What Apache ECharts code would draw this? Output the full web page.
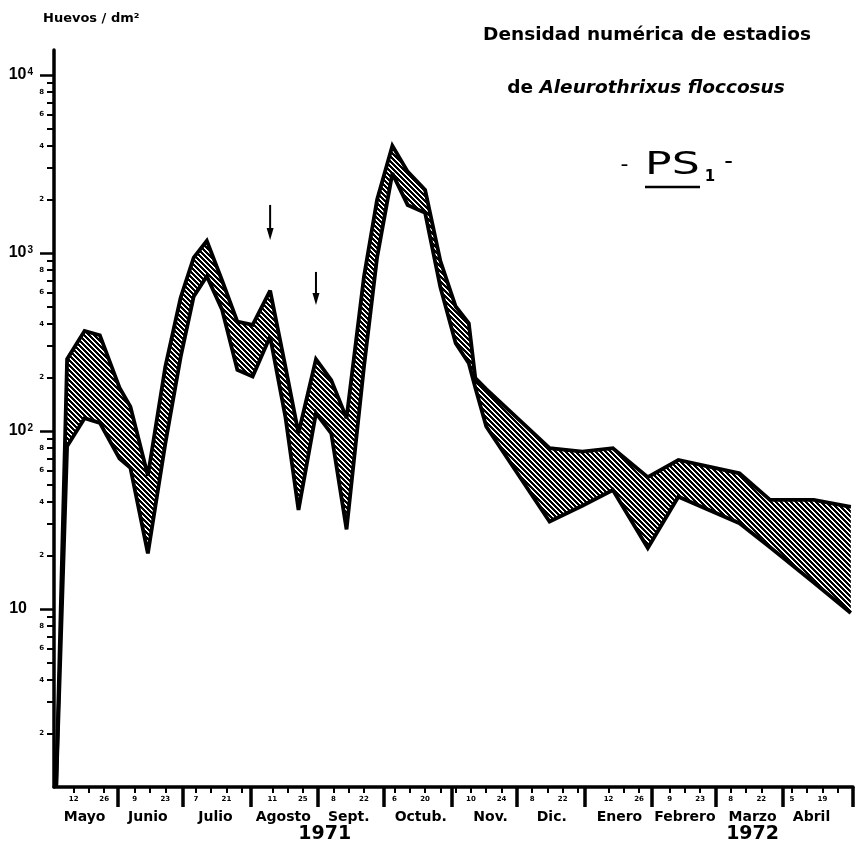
<!DOCTYPE html>
<html><head><meta charset="utf-8">
<script src="https://cdn.jsdelivr.net/npm/echarts@6/dist/echarts.min.js"></script>
<style>html,body{margin:0;padding:0;background:#fff}#c{width:855px;height:858px}</style>
</head><body><div id="c"></div>
<script>
// ---------- data ----------
const sampleDates = ['1971-05-04','1971-05-09','1971-05-17','1971-05-24','1971-06-02','1971-06-07','1971-06-15','1971-06-23','1971-06-30','1971-07-06','1971-07-12','1971-07-19','1971-07-26','1971-08-02','1971-08-10','1971-08-17','1971-08-23','1971-08-31','1971-09-07','1971-09-14','1971-09-22','1971-09-28','1971-10-05','1971-10-12','1971-10-20','1971-10-27','1971-11-03','1971-11-09','1971-11-12','1971-11-17','1971-12-16','1971-12-31','1972-01-14','1972-01-30','1972-02-13','1972-03-12','1972-03-26','1972-04-15','1972-05-02'];
const upperEggs = [1,253,365,345,175,137,56,230,560,940,1170,700,411,394,614,230,97,253,193,118,736,1990,4000,2860,2260,900,500,403,198,172,80,76.5,80,55,68.7,57.8,41,41,37.5];
const lowerEggs = [1,82,118,111,70,62,20.5,85,260,570,740,480,220,202,339,120,36,126,97,28,230,945,2800,1860,1680,640,311,240,175,106,31,38,46.6,22,42.7,30.3,22.2,14.1,9.5];

const axisStart = '1971-05-03', axisEnd = '1972-05-03';
const weekTicks = ['1971-05-12','1971-05-19','1971-05-26','1971-06-09','1971-06-16','1971-06-23','1971-07-07','1971-07-14','1971-07-21','1971-07-28','1971-08-11','1971-08-18','1971-08-25','1971-09-08','1971-09-15','1971-09-22','1971-10-06','1971-10-13','1971-10-20','1971-10-27','1971-11-03','1971-11-10','1971-11-17','1971-11-24','1971-12-08','1971-12-15','1971-12-22','1971-12-29','1972-01-12','1972-01-19','1972-01-26','1972-02-09','1972-02-16','1972-02-23','1972-03-08','1972-03-15','1972-03-22','1972-04-05','1972-04-12','1972-04-19','1972-04-26'];
const dayLabelDates = ['1971-05-12','1971-05-26','1971-06-09','1971-06-23','1971-07-07','1971-07-21','1971-08-11','1971-08-25','1971-09-08','1971-09-22','1971-10-06','1971-10-20','1971-11-10','1971-11-24','1971-12-08','1971-12-22','1972-01-12','1972-01-26','1972-02-09','1972-02-23','1972-03-08','1972-03-22','1972-04-05','1972-04-19'];
const dayLabels = ['12','26','9','23','7','21','11','25','8','22','6','20','10','24','8','22','12','26','9','23','8','22','5','19'];
const monthStarts = ['1971-06-01','1971-07-01','1971-08-01','1971-09-01','1971-10-01','1971-11-01','1971-12-01','1972-01-01','1972-02-01','1972-03-01','1972-04-01','1972-05-03'];
const monthLabelDates = ['1971-05-17','1971-06-15','1971-07-16','1971-08-16','1971-09-15','1971-10-18','1971-11-19','1971-12-17','1972-01-17','1972-02-16','1972-03-18','1972-04-14'];
const monthNames = ['Mayo','Junio','Julio','Agosto','Sept.','Octub.','Nov.','Dic.','Enero','Febrero','Marzo','Abril'];
const yearLabelDates = ['1971-09-04','1972-03-18'];
const yearNames = ['1971','1972'];

const yMin = 1, yMax = 13800;
const decadeTicks = [10,100,1000,10000];
const minorTicks = [2,3,4,5,6,7,8,9,20,30,40,50,60,70,80,90,200,300,400,500,600,700,800,900,2000,3000,4000,5000,6000,7000,8000,9000];
const minorLabels = [2,4,6,8,20,40,60,80,200,400,600,800,2000,4000,6000,8000];

const arrowDates = ['1971-08-10','1971-08-31'];
const arrowTop = [1860,782];
const arrowTip = [1183,510];

// ---------- helpers ----------
function ts(s){ const p=s.split('-').map(Number); return new Date(p[0],p[1]-1,p[2]).getTime(); }
function lookup(dates, labels){ const t=dates.map(ts); return v => { for(let i=0;i<t.length;i++){ if(Math.abs(t[i]-v)<43200000) return labels[i]; } return ''; }; }
function hatch(){
  const s=5, c=document.createElement('canvas'); c.width=s; c.height=s;
  const ctx=c.getContext('2d'), img=ctx.createImageData(s,s);
  for(let y=0;y<s;y++) for(let x=0;x<s;x++){
    const k=((y-x)%s+s)%s, v=k<3?0:255, i=(y*s+x)*4;
    img.data[i]=img.data[i+1]=img.data[i+2]=v; img.data[i+3]=255;
  }
  ctx.putImageData(img,0,0); return c;
}
const hatchPattern = {image:hatch(), repeat:'repeat'};

const FONT = '"DejaVu Sans", sans-serif';
const chart = echarts.init(document.getElementById('c'), null, {renderer:'canvas'});
const xBase = {type:'value', gridIndex:0, min:ts(axisStart), max:ts(axisEnd), position:'bottom', offset:0, scale:true, splitLine:{show:false}, minorTick:{show:false}};
const yBase = {type:'log', logBase:10, gridIndex:0, min:yMin, max:yMax, position:'left', offset:0, splitLine:{show:false}, minorTick:{show:false}};
const outline = {color:'#000', width:3.8, join:'miter', miterLimit:3};

chart.setOption({
  animation:false,
  backgroundColor:'#fff',
  grid:{left:54, right:2, top:50, bottom:71, containLabel:false, outerBoundsMode:'none'},
  xAxis:[
    Object.assign({}, xBase, {
      axisLine:{show:true, lineStyle:{color:'#000', width:3.5}},
      axisTick:{show:true, customValues:weekTicks.map(ts), length:6, lineStyle:{color:'#000', width:2}},
      axisLabel:{show:true, customValues:dayLabelDates.map(ts), formatter:lookup(dayLabelDates, dayLabels), margin:9, hideOverlap:false,
        fontFamily:FONT, fontWeight:'bold', fontSize:7, color:'#000'}
    }),
    Object.assign({}, xBase, {
      axisLine:{show:false},
      axisTick:{show:true, customValues:monthStarts.map(ts), length:20, lineStyle:{color:'#000', width:3.5}},
      axisLabel:{show:true, customValues:monthLabelDates.map(ts), formatter:lookup(monthLabelDates, monthNames), margin:23, hideOverlap:false,
        fontFamily:FONT, fontWeight:'bold', fontSize:14, color:'#000'}
    }),
    Object.assign({}, xBase, {
      axisLine:{show:false}, axisTick:{show:false},
      axisLabel:{show:true, customValues:yearLabelDates.map(ts), formatter:lookup(yearLabelDates, yearNames), margin:38, hideOverlap:false,
        fontFamily:FONT, fontWeight:'bold', fontSize:19, color:'#000'}
    })
  ],
  yAxis:[
    Object.assign({}, yBase, {
      axisLine:{show:true, lineStyle:{color:'#000', width:3.5}},
      axisTick:{show:true, customValues:decadeTicks, length:14, lineStyle:{color:'#000', width:2.5}},
      axisLabel:{show:true, customValues:decadeTicks, margin:21, hideOverlap:false,
        formatter: v => { const e=Math.round(Math.log10(v)); return e===1 ? '{b|10}{p|}' : '{b|10}{s|'+e+'}'; },
        rich:{
          b:{fontFamily:'"Liberation Sans", sans-serif', fontWeight:'bold', fontSize:16, color:'#000'},
          s:{fontFamily:'"Liberation Sans", sans-serif', fontWeight:'bold', fontSize:10, color:'#000', verticalAlign:'top', padding:[0,0,0,1]},
          p:{width:6}
        }}
    }),
    Object.assign({}, yBase, {
      axisLine:{show:false},
      axisTick:{show:true, customValues:minorTicks, length:7, lineStyle:{color:'#000', width:2}},
      axisLabel:{show:true, customValues:minorLabels, margin:10, hideOverlap:false,
        formatter: v => String(Math.round(v/Math.pow(10, Math.floor(Math.log10(v)+1e-9)))),
        fontFamily:FONT, fontWeight:'bold', fontSize:7, color:'#000'}
    })
  ],
  series:[
    {name:'band', type:'custom', xAxisIndex:0, yAxisIndex:0, clip:false, z:1,
      data: sampleDates.map((d,i)=>[ts(d), upperEggs[i], lowerEggs[i]]),
      encode:{x:0, y:[1,2]},
      renderItem:(params, api)=>{
        if (params.dataIndexInside !== 0) return {type:'group', children:[]};
        const n = params.dataInsideLength, up=[], lo=[];
        for (let j=0;j<n;j++){
          up.push(api.coord([api.value(0,j), api.value(1,j)]));
          lo.push(api.coord([api.value(0,j), api.value(2,j)]));
        }
        return {type:'polygon', shape:{points: up.concat(lo.reverse())}, style:{fill:hatchPattern, stroke:null}};
      }},
    {name:'upper', type:'line', xAxisIndex:0, yAxisIndex:0, symbol:'none', clip:false, z:3,
      data: sampleDates.map((d,i)=>[ts(d), upperEggs[i]]), lineStyle:outline},
    {name:'lower', type:'line', xAxisIndex:0, yAxisIndex:0, symbol:'none', clip:false, z:3,
      data: sampleDates.map((d,i)=>[ts(d), lowerEggs[i]]), lineStyle:outline},
    {name:'arrows', type:'custom', xAxisIndex:0, yAxisIndex:0, clip:false, z:4,
      data: arrowDates.map((d,i)=>[ts(d), arrowTop[i], arrowTip[i]]),
      encode:{x:0, y:[1,2]},
      renderItem:(params, api)=>{
        const a=api.coord([api.value(0), api.value(1)]);
        const b=api.coord([api.value(0), api.value(2)]);
        return {type:'group', children:[
          {type:'line', shape:{x1:a[0], y1:a[1], x2:b[0], y2:b[1]-9}, style:{stroke:'#000', lineWidth:2}},
          {type:'polygon', shape:{points:[[b[0]-3.5,b[1]-12],[b[0]+3.5,b[1]-12],[b[0],b[1]]]}, style:{fill:'#000'}}
        ]};
      }}
  ],
  graphic:[
    {type:'text', x:43, y:19, style:{text:'Huevos / dm²', font:'bold 13px '+FONT, fill:'#000', align:'left', verticalAlign:'middle'}},
    {type:'text', x:647, y:35, style:{text:'Densidad numérica de estadios', font:'bold 18.5px '+FONT, fill:'#000', align:'center', verticalAlign:'middle'}},
    {type:'text', x:646, y:88, style:{text:'de {i|Aleurothrixus floccosus}', font:'bold 18.5px '+FONT, fill:'#000', align:'center', verticalAlign:'middle',
      rich:{i:{fontFamily:FONT, fontWeight:'bold', fontStyle:'italic', fontSize:18.5, fill:'#000'}}}},
    {type:'text', x:624.5, y:165, style:{text:'-', font:'22px '+FONT, fill:'#000', align:'center', verticalAlign:'middle'}},
    {type:'text', x:645, y:165.5, scaleX:1.38, style:{text:'PS', font:'32px '+FONT, fill:'#000', align:'left', verticalAlign:'middle'}},
    {type:'text', x:710, y:177, style:{text:'1', font:'bold 15px '+FONT, fill:'#000', align:'center', verticalAlign:'middle'}},
    {type:'text', x:728.5, y:163, style:{text:'-', font:'24px '+FONT, fill:'#000', align:'center', verticalAlign:'middle'}},
    {type:'line', shape:{x1:645, y1:187, x2:700, y2:187}, style:{stroke:'#000', lineWidth:2.5}}
  ]
});
</script></body></html>
